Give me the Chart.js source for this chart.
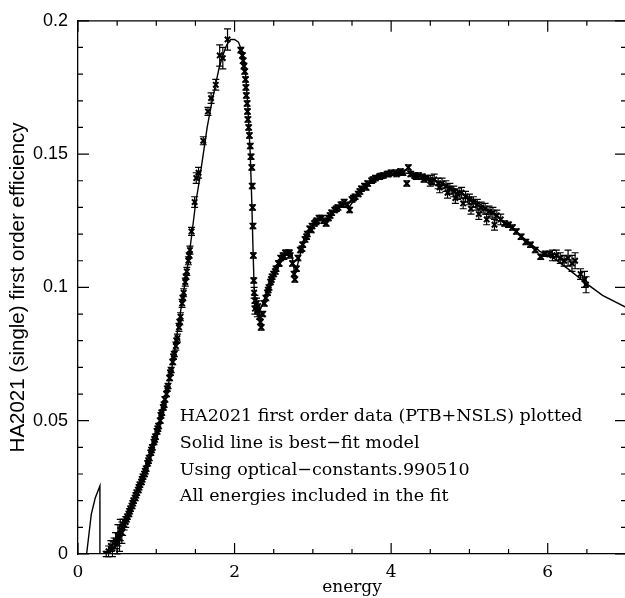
<!DOCTYPE html>
<html>
<head>
<meta charset="utf-8">
<script src="https://cdn.jsdelivr.net/npm/chart.js@4.4.1/dist/chart.umd.min.js"></script>
<style>
  html, body { margin: 0; padding: 0; background: #fff; overflow: hidden; }
  #wrap { width: 632px; height: 598px; }
</style>
</head>
<body>
<div id="wrap"><canvas id="eff"></canvas></div>
<script>
// measured points (energy, efficiency, 1-sigma error)
const energy = [
  0.36,0.39,0.42,0.44,0.46,0.48,0.50,0.51,0.53,0.54,0.56,0.57,0.59,0.61,0.63,0.65,0.67,0.69,0.71,0.73,
  0.75,0.77,0.79,0.81,0.83,0.85,0.87,0.89,0.91,0.93,0.95,0.97,0.99,1.01,1.03,1.05,1.07,1.09,1.11,1.13,
  1.15,1.17,1.19,1.21,1.23,1.25,1.27,1.29,1.31,1.33,1.35,1.37,1.39,1.41,1.43,1.45,1.49,1.51,1.54,1.60,
  1.66,1.70,1.76,1.81,1.85,1.91,
  2.08,2.10,2.11,2.12,2.13,2.14,2.145,2.15,2.16,2.165,2.17,2.18,2.19,2.20,2.21,2.22,2.225,2.23,2.235,2.24,
  2.245,2.25,2.26,2.26,2.28,2.29,2.30,2.32,2.33,2.34,2.36,2.38,2.40,2.42,2.44,2.46,2.48,2.50,2.53,2.56,
  2.59,2.62,2.65,2.68,2.71,2.74,2.76,2.77,2.79,2.81,2.84,2.87,2.90,2.93,2.96,2.99,3.02,3.05,3.08,3.11,
  3.14,3.17,3.20,3.24,3.28,3.32,3.36,3.40,3.44,3.47,3.50,3.54,3.58,3.62,3.66,3.70,3.75,3.80,3.85,3.90,
  3.95,4.00,4.05,4.10,4.15,4.20,4.22,4.25,4.30,4.35,4.40,4.45,4.50,4.55,4.60,4.65,4.70,4.75,4.80,4.85,
  4.90,4.95,5.00,5.05,5.10,5.15,5.20,5.25,5.30,5.35,5.40,5.45,5.50,5.55,5.60,5.66,5.72,5.78,5.84,5.91,
  5.97,6.02,6.06,6.11,6.16,6.21,6.26,6.31,6.35,6.42,6.47,6.49,
  4.62,4.72,4.82,4.92,5.02,5.12,5.22,5.32,
  0.62,0.66,0.70,0.74,0.78,0.82,0.86,0.90,0.94,0.98,1.02,1.06,1.10,1.14,1.18,1.22,1.26,1.30,1.34,1.38,1.42,
  2.43,2.47,2.52,2.57,2.63,2.70,2.86,2.92,2.98,3.04,3.22,3.30,3.38,3.52,3.60,3.68,3.77,3.87,3.97,4.07,
  4.12,4.32,4.42,4.52
];
const efficiency = [
  0.000,0.001,0.003,0.002,0.004,0.005,0.004,0.007,0.006,0.009,0.008,0.010,0.011,0.012,0.014,0.015,0.017,0.018,0.020,0.021,
  0.023,0.024,0.026,0.027,0.029,0.030,0.032,0.034,0.036,0.038,0.040,0.042,0.044,0.046,0.048,0.050,0.053,0.055,0.058,0.060,
  0.063,0.066,0.069,0.072,0.075,0.078,0.081,0.085,0.089,0.094,0.098,0.102,0.106,0.110,0.114,0.121,0.132,0.141,0.143,0.155,
  0.166,0.171,0.176,0.187,0.186,0.193,
  0.189,0.187,0.185,0.183,0.181,0.178,0.175,0.172,0.169,0.166,0.163,0.160,0.157,0.153,0.149,0.145,0.138,0.130,0.123,0.112,
  0.1026,0.098,0.095,0.092,0.094,0.091,0.093,0.089,0.087,0.085,0.090,0.094,0.096,0.098,0.100,0.102,0.104,0.105,0.107,0.109,
  0.111,0.112,0.113,0.113,0.112,0.109,0.105,0.103,0.107,0.111,0.114,0.116,0.118,0.120,0.122,0.123,0.124,0.125,0.126,0.126,
  0.125,0.124,0.126,0.128,0.129,0.130,0.131,0.132,0.131,0.129,0.133,0.134,0.135,0.137,0.138,0.139,0.140,0.141,0.1415,0.142,
  0.1425,0.143,0.143,0.143,0.143,0.139,0.145,0.1425,0.142,0.142,0.1415,0.141,0.140,0.1405,0.139,0.139,0.138,0.137,0.136,0.135,
  0.1355,0.134,0.133,0.132,0.131,0.130,0.1295,0.1285,0.128,0.127,0.1255,0.124,0.1235,0.1225,0.121,0.119,0.117,0.116,0.114,0.1115,
  0.1126,0.1125,0.112,0.112,0.111,0.110,0.111,0.109,0.110,0.105,0.103,0.101,
  0.1375,0.1355,0.1335,0.1315,0.1295,0.1275,0.1255,0.1235,
  0.013,0.016,0.019,0.022,0.025,0.028,0.031,0.035,0.039,0.043,0.047,0.052,0.056,0.062,0.068,0.074,0.080,0.087,0.096,0.104,0.112,
  0.099,0.103,0.106,0.109,0.1115,0.113,0.1145,0.119,0.1215,0.1245,0.127,0.1295,0.131,0.1335,0.136,0.1375,0.1405,0.1418,0.1425,0.1425,
  0.1435,0.1415,0.1405,0.1395
];
const effError = [
  0.001,0.002,0.002,0.003,0.002,0.003,0.004,0.004,0.005,0.004,0.004,0.003,0.002,0.002,0.001,0.001,0.001,0.001,0.001,0.001,
  0.001,0.001,0.001,0.001,0.001,0.001,0.001,0.001,0.001,0.001,0.001,0.001,0.001,0.001,0.001,0.001,0.001,0.001,0.001,0.001,
  0.001,0.001,0.001,0.001,0.001,0.0015,0.0015,0.0015,0.0015,0.0015,0.0015,0.0015,0.0015,0.0015,0.0015,0.0015,0.002,0.002,0.002,0.0015,
  0.0015,0.002,0.002,0.004,0.004,0.004,
  0.001,0.001,0.001,0.001,0.001,0.001,0.001,0.001,0.001,0.001,0.001,0.001,0.001,0.001,0.001,0.001,0.001,0.001,0.001,0.001,
  0.001,0.002,0.002,0.002,0.002,0.002,0.002,0.001,0.001,0.001,0.001,0.001,0.001,0.001,0.001,0.001,0.001,0.001,0.001,0.001,
  0.001,0.001,0.001,0.001,0.001,0.001,0.001,0.001,0.001,0.001,0.001,0.001,0.001,0.001,0.001,0.001,0.001,0.001,0.001,0.001,
  0.001,0.001,0.001,0.001,0.001,0.001,0.001,0.001,0.001,0.001,0.001,0.001,0.001,0.001,0.001,0.001,0.001,0.001,0.001,0.001,
  0.001,0.001,0.001,0.001,0.001,0.001,0.001,0.001,0.001,0.001,0.001,0.001,0.002,0.002,0.002,0.002,0.002,0.002,0.002,0.002,
  0.002,0.002,0.002,0.002,0.002,0.002,0.002,0.002,0.002,0.002,0.002,0.001,0.001,0.001,0.001,0.001,0.001,0.001,0.001,0.001,
  0.001,0.001,0.002,0.002,0.002,0.002,0.003,0.003,0.003,0.002,0.003,0.003,
  0.002,0.002,0.002,0.002,0.002,0.002,0.002,0.002,
  0.001,0.001,0.001,0.001,0.001,0.001,0.001,0.001,0.001,0.001,0.001,0.001,0.001,0.001,0.001,0.001,0.001,0.001,0.001,0.001,0.001,
  0.001,0.001,0.001,0.001,0.001,0.001,0.001,0.001,0.001,0.001,0.001,0.001,0.001,0.001,0.001,0.001,0.001,0.001,0.001,0.001,
  0.001,0.001,0.001,0.001
];

// best-fit model curve
const modelEnergy = [
  0.11,0.17,0.22,0.28,0.28,0.36,0.40,0.50,0.60,0.70,0.80,0.90,1.00,1.10,1.20,1.30,1.40,1.45,1.50,1.55,
  1.60,1.65,1.70,1.75,1.80,1.85,1.90,1.95,2.00,2.05,2.10,2.14,2.17,2.20,2.22,2.235,2.25,2.27,2.32,2.40,
  2.50,2.60,2.68,2.73,2.77,2.80,2.87,2.98,3.10,3.17,3.27,3.40,3.46,3.56,3.70,3.85,4.00,4.15,4.30,4.50,
  4.70,4.90,5.10,5.30,5.50,5.70,5.90,6.10,6.30,6.50,6.70,7.00
];
const modelEff = [
  0.000,0.015,0.021,0.0255,0.000,0.000,0.002,0.006,0.0105,0.019,0.027,0.034,0.044,0.056,0.070,0.089,0.108,0.119,0.131,0.140,
  0.150,0.160,0.168,0.175,0.182,0.187,0.191,0.193,0.193,0.192,0.188,0.180,0.168,0.150,0.132,0.115,0.100,0.094,0.091,0.097,
  0.104,0.110,0.1135,0.1125,0.105,0.108,0.116,0.1225,0.1263,0.1245,0.1285,0.1318,0.130,0.134,0.1388,0.1415,0.1428,0.143,0.1425,0.141,
  0.1385,0.1355,0.132,0.1278,0.1232,0.1183,0.1135,0.1105,0.106,0.1013,0.097,0.0925
];

const xMajor = [0, 2, 4, 6];
const yMajor = [0, 0.05, 0.1, 0.15, 0.2];

const noteLines = [
  "HA2021 first order data (PTB+NSLS) plotted",
  "Solid line is best\u2212fit model",
  "Using optical\u2212constants.990510",
  "All energies included in the fit"
];

const points = energy.map((e, i) => ({ x: e, y: efficiency[i] }));
const model = modelEnergy.map((e, i) => ({ x: e, y: modelEff[i] }));

// inward ticks on all four sides + top/right frame
const frameTicks = {
  id: "frameTicks",
  afterDraw(chart) {
    const { ctx, chartArea: a, scales: { x, y } } = chart;
    ctx.save();
    ctx.strokeStyle = "#000";
    ctx.lineWidth = 1.3;
    ctx.beginPath();
    ctx.moveTo(a.left, a.top); ctx.lineTo(a.right, a.top); ctx.lineTo(a.right, a.bottom);
    ctx.stroke();
    ctx.lineWidth = 1.2;
    for (let v = 0; v <= 7.0001; v += 0.5) {
      const px = x.getPixelForValue(v);
      const len = Math.abs(v % 2) < 1e-6 ? 11 : 5;
      ctx.beginPath();
      ctx.moveTo(px, a.bottom); ctx.lineTo(px, a.bottom - len);
      ctx.moveTo(px, a.top); ctx.lineTo(px, a.top + len);
      ctx.stroke();
    }
    for (let k = 0; k <= 20; k++) {
      const py = y.getPixelForValue(k * 0.01);
      const len = k % 5 === 0 ? 11 : 5;
      ctx.beginPath();
      ctx.moveTo(a.left, py); ctx.lineTo(a.left + len, py);
      ctx.moveTo(a.right, py); ctx.lineTo(a.right - len, py);
      ctx.stroke();
    }
    ctx.restore();
  }
};

const errorBars = {
  id: "errorBars",
  afterDatasetsDraw(chart) {
    const { ctx, scales: { x, y } } = chart;
    ctx.save();
    ctx.strokeStyle = "#000";
    ctx.lineWidth = 1.2;
    energy.forEach((e, i) => {
      const px = x.getPixelForValue(e);
      const lo = y.getPixelForValue(efficiency[i] - effError[i]);
      const hi = y.getPixelForValue(efficiency[i] + effError[i]);
      ctx.beginPath();
      ctx.moveTo(px, lo); ctx.lineTo(px, hi);
      ctx.moveTo(px - 3.5, lo); ctx.lineTo(px + 3.5, lo);
      ctx.moveTo(px - 3.5, hi); ctx.lineTo(px + 3.5, hi);
      ctx.stroke();
    });
    ctx.restore();
  }
};

const notes = {
  id: "notes",
  afterDraw(chart) {
    const { ctx, scales: { x, y } } = chart;
    ctx.save();
    ctx.fillStyle = "#000";
    ctx.font = "17.5px 'DejaVu Serif'";
    ctx.textBaseline = "middle";
    const left = x.getPixelForValue(1.30);
    noteLines.forEach((t, i) => {
      ctx.fillText(t, left, y.getPixelForValue(0.0515 - i * 0.01));
    });
    ctx.restore();
  }
};

new Chart(document.getElementById("eff"), {
  type: "scatter",
  data: {
    datasets: [
      {
        label: "model",
        data: model,
        showLine: true,
        borderColor: "#000",
        borderWidth: 1.4,
        pointRadius: 0,
        tension: 0,
        order: 2
      },
      {
        label: "data",
        data: points,
        pointStyle: "crossRot",
        pointRadius: 3.8,
        borderColor: "#000",
        borderWidth: 2,
        order: 1
      }
    ]
  },
  options: {
    responsive: true,
    maintainAspectRatio: false,
    animation: false,
    layout: { padding: { top: 14, right: 3, left: 0, bottom: 0 } },
    plugins: { legend: { display: false }, tooltip: { enabled: false } },
    scales: {
      x: {
        type: "linear",
        min: 0,
        max: 7,
        afterFit: (s) => { s.height = 44; },
        afterBuildTicks: (s) => { s.ticks = xMajor.map(v => ({ value: v })); },
        grid: { display: false, drawTicks: false },
        border: { display: true, color: "#000", width: 1.3 },
        ticks: { color: "#000", padding: 8, font: { family: "DejaVu Serif", size: 17 } },
        title: {
          display: true, text: "energy", color: "#000",
          font: { family: "DejaVu Serif", size: 17 },
          padding: { top: 0, bottom: 0 }
        }
      },
      y: {
        type: "linear",
        min: 0,
        max: 0.2,
        afterFit: (s) => { s.width = 78; },
        afterBuildTicks: (s) => { s.ticks = yMajor.map(v => ({ value: v })); },
        grid: { display: false, drawTicks: false },
        border: { display: true, color: "#000", width: 1.3 },
        ticks: {
          color: "#000", padding: 10,
          font: { family: "Liberation Sans", size: 18 },
          callback: (v) => String(Number(v.toFixed(2)))
        },
        title: {
          display: true, text: "HA2021 (single) first order efficiency", color: "#000",
          font: { family: "Liberation Sans", size: 20.5 },
          padding: { top: 6, bottom: 0 }
        }
      }
    }
  },
  plugins: [frameTicks, errorBars, notes]
});
</script>
</body>
</html>
